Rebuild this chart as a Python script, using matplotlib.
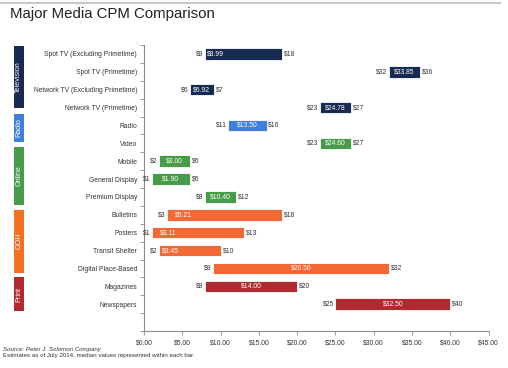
"""
Major Media CPM Comparison
Low / median / high CPM for each media type, drawn as floating bars.
"""

import matplotlib
matplotlib.use("Agg")
import matplotlib.pyplot as plt
from matplotlib.patches import Rectangle
from matplotlib.lines import Line2D
from matplotlib.transforms import blended_transform_factory

plt.rcParams["font.family"] = ["Liberation Sans", "DejaVu Sans"]

# ----------------------------------------------------------------
# Data
# ----------------------------------------------------------------
media = ["Spot TV (Excluding Primetime)", "Spot TV (Primetime)",
         "Network TV (Excluding Primetime)", "Network TV (Primetime)",
         "Radio", "Video", "Mobile", "General Display", "Premium Display",
         "Bulletins", "Posters", "Transit Shelter", "Digital Place-Based",
         "Magazines", "Newspapers"]
low = [8, 32, 6, 23, 11, 23, 2, 1, 8, 3, 1, 2, 9, 8, 25]
median = [8.99, 33.85, 6.92, 24.78, 13.50, 24.60, 3.00, 1.90, 10.40,
          5.21, 3.11, 3.45, 20.50, 14.00, 32.50]
high = [18, 36, 7, 27, 16, 27, 6, 6, 12, 18, 13, 10, 32, 20, 40]
group = ["Television"] * 4 + ["Radio"] + ["Online"] * 4 + ["OOH"] * 4 + ["Print"] * 2

group_names = ["Television", "Radio", "Online", "OOH", "Print"]
x_ticks = [0, 5, 10, 15, 20, 25, 30, 35, 40, 45]

# ----------------------------------------------------------------
# Styles / layout
# ----------------------------------------------------------------
bar_colors = {"Television": "#172a52", "Radio": "#3d7fd9", "Online": "#489b48",
              "OOH": "#f26936", "Print": "#b12a2f"}
block_colors = {"Television": "#172a52", "Radio": "#3d7fd9", "Online": "#489b48",
                "OOH": "#f37022", "Print": "#b12a2f"}
# vertical extent of the coloured group tags (in row units)
block_spans = {"Television": (-0.45, 3.05), "Radio": (3.35, 4.92),
               "Online": (5.2, 8.44), "OOH": (8.72, 12.23), "Print": (12.5, 14.4)}
MIN_BAR = 3.1        # narrow bars are widened so the median label fits
CHAR_W = 0.45        # approx width of one label character in $ units
TXT = "#333333"
SPINE = "#8c8c8c"
FS = 4.9

fig = plt.figure(figsize=(5.08, 3.68), dpi=100)
ax = fig.add_axes([144 / 508, 1 - 331 / 368, (488.6 - 144) / 508, (331 - 45) / 368])

n_slots = len(media) + 1
rows = list(range(len(media)))

for i in rows:
    color = bar_colors[group[i]]
    width = max(high[i] - low[i], MIN_BAR)
    end = low[i] + width
    ax.barh(i, width, left=low[i], height=0.64, color=color,
            edgecolor="white", linewidth=0.6)

    # median label inside the bar
    label = f"${median[i]:.2f}"
    half = len(label) * CHAR_W / 2
    if width <= 5:
        cx = low[i] + width / 2
    else:
        cx = min(max(median[i], low[i] + 0.25 + half), end - 0.25 - half)
    ax.text(cx, i, label, ha="center", va="center", color="white", fontsize=FS)

    # low / high labels outside the bar
    ax.text(low[i] - 0.2, i, f"${low[i]}", ha="right", va="center",
            color=TXT, fontsize=FS)
    ax.text(end + 0.25, i, f"${high[i]}", ha="left", va="center",
            color=TXT, fontsize=FS)

# ----------------------------------------------------------------
# Axes
# ----------------------------------------------------------------
ax.set_xlim(0, 45)
ax.set_ylim(n_slots - 0.5, -0.5)
ax.set_xticks(x_ticks)
ax.set_xticklabels([f"${v:.2f}" for v in x_ticks], fontsize=FS, color=TXT)
ax.set_yticks(rows)
ax.set_yticklabels(media, fontsize=FS, color=TXT)
ax.set_yticks([r - 0.5 for r in range(n_slots + 1)], minor=True)
ax.tick_params(axis="y", which="major", length=0, pad=5)
ax.tick_params(axis="y", which="minor", length=3, color=SPINE, width=0.6)
ax.tick_params(axis="x", length=3, color=SPINE, width=0.6, pad=3)
for side in ["top", "right"]:
    ax.spines[side].set_visible(False)
for side in ["left", "bottom"]:
    ax.spines[side].set_color(SPINE)
    ax.spines[side].set_linewidth(0.8)

# ----------------------------------------------------------------
# Coloured group tags on the left
# ----------------------------------------------------------------
trans = blended_transform_factory(fig.transFigure, ax.transData)
for name in group_names:
    y0, y1 = block_spans[name]
    ax.add_patch(Rectangle((14 / 508, y0), 9.5 / 508, y1 - y0, transform=trans,
                           facecolor=block_colors[name], edgecolor="none",
                           clip_on=False))
    ax.text(18.8 / 508, (y0 + y1) / 2, name, transform=trans, rotation=90,
            ha="center", va="center", color="white", fontsize=FS + 0.3)

# ----------------------------------------------------------------
# Title, top rule, source notes
# ----------------------------------------------------------------
fig.add_artist(Line2D([0.0, 0.985], [1 - 2.5 / 368] * 2, color="#c8c8c8", linewidth=1.5))
fig.text(10 / 508, 1 - 14 / 368, "Major Media CPM Comparison", fontsize=10.8,
         color="#222222", ha="left", va="center")
fig.text(3 / 508, 1 - 349 / 368, "Source: Peter J. Solomon Company",
         fontsize=4.4, style="italic", color=TXT, ha="left", va="center")
fig.text(3 / 508, 1 - 356 / 368,
         "Estimates as of July 2014, median values represented within each bar.",
         fontsize=4.4, color=TXT, ha="left", va="center")

fig.savefig("out.png", dpi=100)
